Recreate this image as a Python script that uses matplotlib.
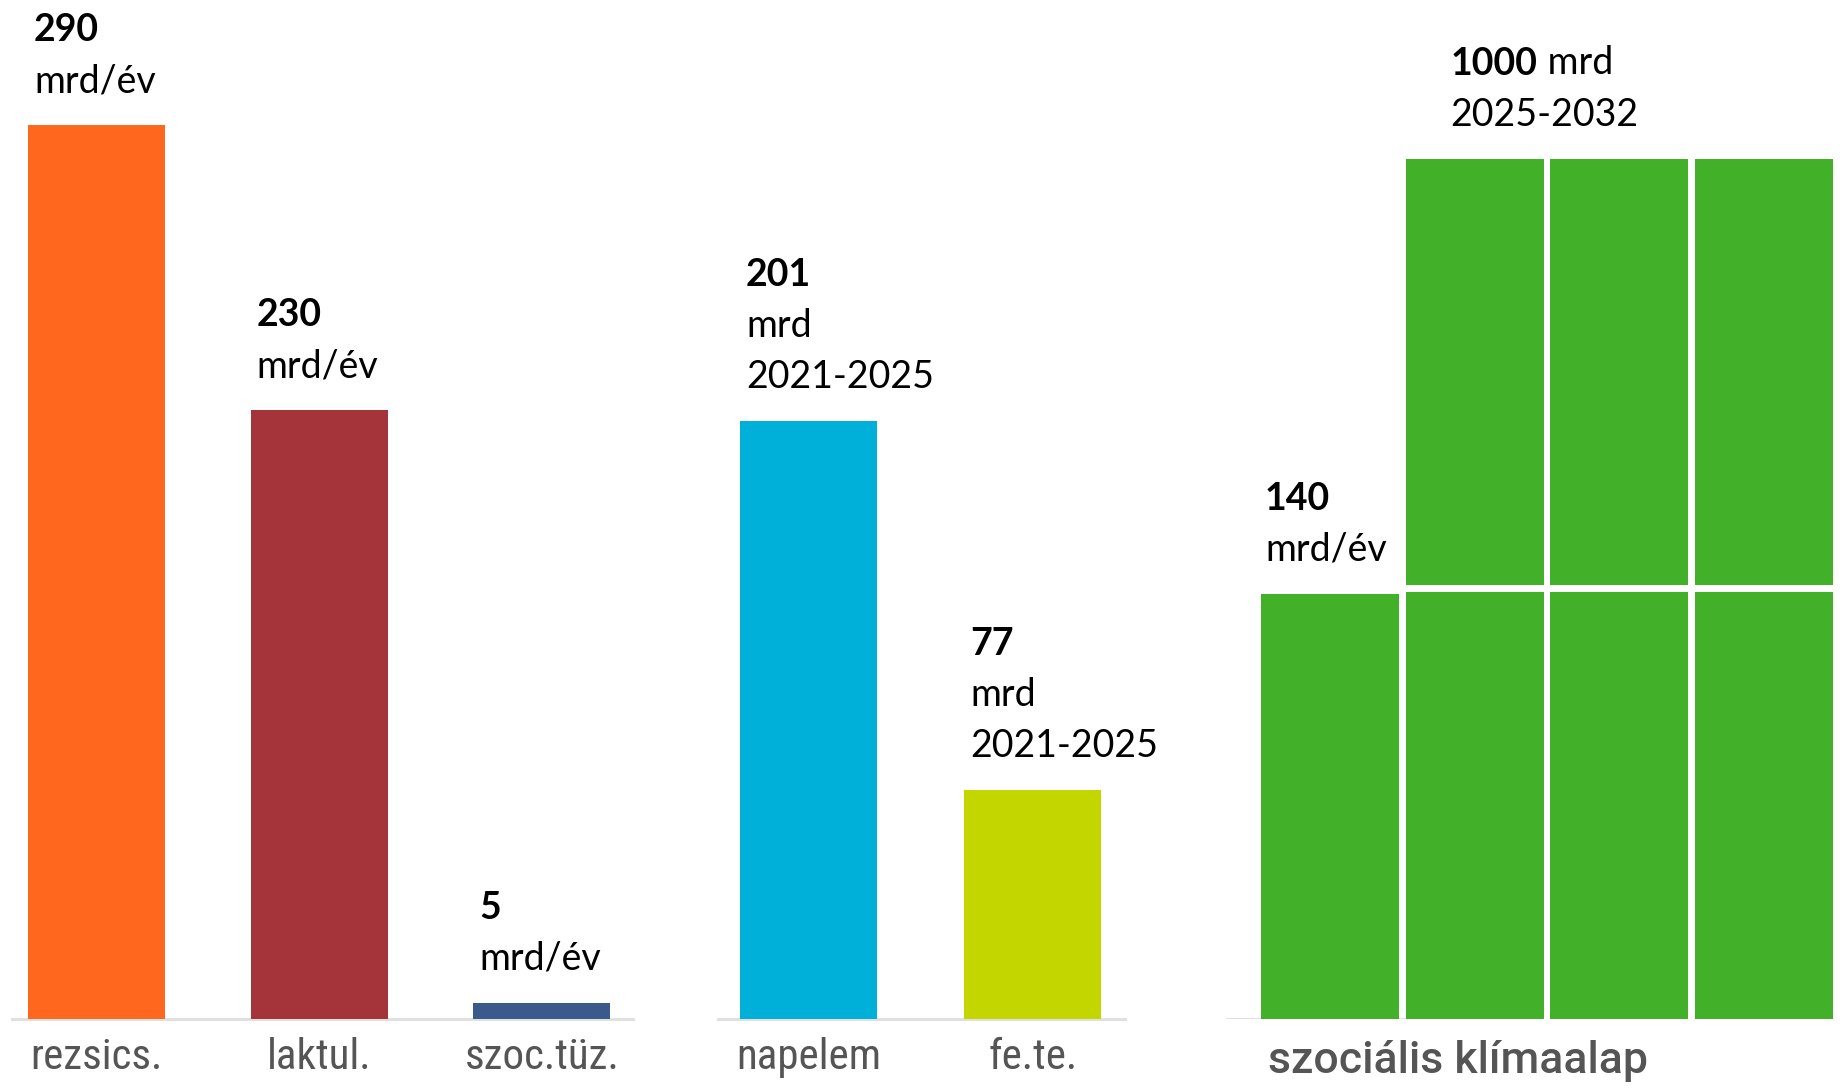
import matplotlib
matplotlib.use("Agg")
import matplotlib.pyplot as plt
from matplotlib import font_manager

# --- data -------------------------------------------------------------
# group 1: yearly support schemes
g1_cats = ["rezsics.", "laktul.", "szoc.tüz."]
g1_labels = ["290", "230", "5"]
g1_units = [["mrd/év"], ["mrd/év"], ["mrd/év"]]
# bar heights as drawn in the picture (the original is not fully to scale)
g1_heights = [300.5, 204.7, 5.4]
g1_colors = ["#FF671F", "#A4343A", "#3A5A8C"]

# group 2: one-off programmes 2021-2025
g2_cats = ["napelem", "fe.te."]
g2_labels = ["201", "77"]
g2_units = [["mrd", "2021-2025"], ["mrd", "2021-2025"]]
g2_heights = [201, 77]
g2_colors = ["#00B0D8", "#C4D600"]

# group 3: social climate fund, 140 / year and 1000 in total (7 blocks)
g3_cat = "szociális klímaalap"
g3_year_label = "140"
g3_total_label = "1000"
g3_lower = [142.9, 143.6, 143.6, 143.6]
g3_upper = [0, 143.0, 143.0, 143.0]
g3_color = "#43B02A"

# --- layout -------------------------------------------------------------
W, H = 1844, 1088
base_px = 1019          # baseline, px from top
px_per_unit = 2.975
ytop = base_px / px_per_unit

num_font = dict(family=["Lato", "DejaVu Sans"], fontsize=27, color="black")

# the category labels are narrow; use a condensed face if one is there
installed = {f.name for f in font_manager.fontManager.ttflist}
if "Roboto Condensed" in installed:
    tick_font = dict(family=["Roboto Condensed", "DejaVu Sans"], fontsize=31)
elif "Liberation Sans Narrow" in installed:
    tick_font = dict(family=["Liberation Sans Narrow", "DejaVu Sans"], fontsize=32)
else:
    tick_font = dict(family=["Roboto", "DejaVu Sans"], fontsize=28)
tick_font.update(color="#555555", fontweight="normal")
axis_color = "#e0e0e0"

fig = plt.figure(figsize=(W / 100, H / 100), dpi=100)


def make_axes(x0, x1):
    ax = fig.add_axes([x0 / W, (H - base_px) / H, (x1 - x0) / W, base_px / H])
    ax.set_ylim(0, ytop)
    for s in ["top", "left", "right"]:
        ax.spines[s].set_visible(False)
    ax.spines["bottom"].set_color(axis_color)
    ax.spines["bottom"].set_linewidth(2.2)
    ax.set_xticks([])
    ax.set_yticks([])
    ax.patch.set_alpha(0)
    return ax


def bar_labels(ax, x_left, top, bold, lines, dx=6):
    # lines stacked upward from the bar top
    step = 51
    n = len(lines)
    ax.annotate(bold, xy=(x_left, top), xytext=(dx, 33 + step * n),
                textcoords="offset pixels", ha="left", va="baseline",
                fontweight="bold", annotation_clip=False, **num_font)
    for k, line in enumerate(lines):
        ax.annotate(line, xy=(x_left, top), xytext=(dx, 33 + step * (n - 1 - k)),
                    textcoords="offset pixels", ha="left", va="baseline",
                    annotation_clip=False, **num_font)


def cat_labels(ax, xs, cats):
    for x, c in zip(xs, cats):
        ax.annotate(c, xy=(x, 0), xytext=(0, -50), textcoords="offset pixels",
                    ha="center", va="baseline", annotation_clip=False, **tick_font)


# group 1
ax1 = make_axes(12, 633)
w1 = 0.615
x1 = list(range(len(g1_cats)))
ax1.set_xlim(-0.379, 2.409)
ax1.bar(x1, g1_heights, width=w1, color=g1_colors, zorder=3)
for x, h, b, u in zip(x1, g1_heights, g1_labels, g1_units):
    bar_labels(ax1, x - w1 / 2, h, b, u)
cat_labels(ax1, x1, g1_cats)

# group 2
ax2 = make_axes(718, 1125)
w2 = 0.61
x2 = list(range(len(g2_cats)))
ax2.set_xlim(-0.403, 1.41)
ax2.bar(x2, g2_heights, width=w2, color=g2_colors, zorder=3)
for x, h, b, u in zip(x2, g2_heights, g2_labels, g2_units):
    bar_labels(ax2, x - w2 / 2, h, b, u)
cat_labels(ax2, x2, g2_cats)

# group 3
ax3 = make_axes(1226, 1844)
ax3.spines["bottom"].set_visible(False)
ax3.axhline(0, xmin=0, xmax=0.3625, color=axis_color, lw=2.2, zorder=2)
w3 = 0.955
gap = 2.4
x3 = list(range(len(g3_lower)))
ax3.set_xlim(-0.72, 3.557)
ax3.bar(x3, g3_lower, width=w3, color=g3_color, zorder=3)
ax3.bar(x3[1:], g3_upper[1:], width=w3, bottom=[v + gap for v in g3_lower[1:]],
        color=g3_color, zorder=3)
bar_labels(ax3, x3[0] - w3 / 2, g3_lower[0], g3_year_label, ["mrd/év"], dx=4)

# "1000 mrd / 2025-2032" above the stacked columns
top_up = g3_lower[1] + gap + g3_upper[1]
t_bold = ax3.annotate(g3_total_label, xy=(x3[1], top_up), xytext=(-24, 33 + 51),
                      textcoords="offset pixels", ha="left", va="baseline",
                      fontweight="bold", annotation_clip=False, **num_font)
ax3.annotate(" mrd", xy=(1, 0), xycoords=t_bold, ha="left", va="bottom",
             annotation_clip=False, **num_font)
ax3.annotate("2025-2032", xy=(x3[1], top_up), xytext=(-24, 33),
             textcoords="offset pixels", ha="left", va="baseline",
             annotation_clip=False, **num_font)

ax3.annotate(g3_cat, xy=(x3[0] - w3 / 2, 0), xytext=(7, -54), textcoords="offset pixels",
             ha="left", va="baseline", annotation_clip=False,
             family=["Roboto", "DejaVu Sans"], fontsize=32, fontweight="medium",
             color="#555555")

fig.savefig("out.png", dpi=100, facecolor="white")
